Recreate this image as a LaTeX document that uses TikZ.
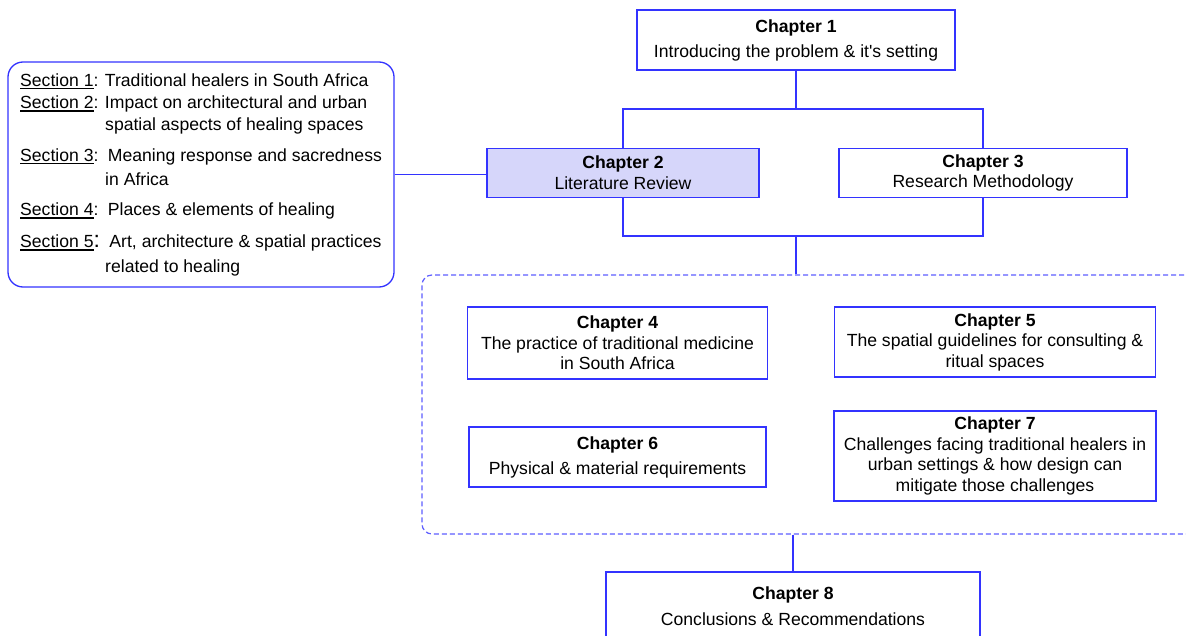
\documentclass[tikz,border=0pt]{standalone}
\usepackage{fontspec}
\setmainfont{Liberation Sans}
\definecolor{lineblue}{RGB}{51,51,255}
\definecolor{dashblue}{RGB}{95,95,255}
\definecolor{lavender}{RGB}{214,214,250}
% underlined section label with a slightly heavier rule
\newcommand\seclabel[1]{\setbox0\hbox{#1}\rlap{\rule[-2.6pt]{\wd0}{1.1pt}}\box0}
\begin{document}
\begin{tikzpicture}[x=1pt,y=-1pt,
  txt/.style={font=\fontsize{17.6}{20.5}\selectfont},
  chapbox/.style={draw=lineblue,line width=1.3pt,fill=white,align=center,inner sep=0pt,txt},
  link/.style={draw=lineblue,line width=1.3pt},
  secline/.style={anchor=base west,inner sep=0pt,txt}]
\clip (0,0) rectangle (1186,636);
\fill[white] (0,0) rectangle (1186,636);

% dashed group of chapters 4-7
\node[draw=dashblue,line width=1.2pt,dash pattern=on 5pt off 3pt,rounded corners=10pt,
      minimum width=780pt,minimum height=259pt,inner sep=0pt] (grp) at (812,404.5) {};

% chapter boxes
\node[chapbox,minimum width=318pt,minimum height=60pt] (ch1) at (796,40)
  {\textbf{Chapter 1}\\[4.5pt]Introducing the problem \& it\textquotesingle s setting};
\node[chapbox,fill=lavender,minimum width=272pt,minimum height=49pt] (ch2) at (623,172.8)
  {\textbf{Chapter 2}\\Literature Review};
\node[chapbox,minimum width=288pt,minimum height=49pt] (ch3) at (983,172.8)
  {\textbf{Chapter 3}\\Research Methodology};
\node[chapbox,minimum width=300pt,minimum height=72pt] (ch4) at (617.5,343)
  {\textbf{Chapter 4}\\The practice of traditional medicine\\in South Africa};
\node[chapbox,minimum width=321pt,minimum height=70pt] (ch5) at (995,342)
  {\textbf{Chapter 5}\\The spatial guidelines for consulting \&\\ritual spaces};
\node[chapbox,minimum width=297pt,minimum height=60pt] (ch6) at (617.5,457)
  {\textbf{Chapter 6}\\[4.5pt]Physical \& material requirements};
\node[chapbox,minimum width=322pt,minimum height=90pt] (ch7) at (995,456)
  {\textbf{Chapter 7}\\Challenges facing traditional healers in\\urban settings \& how design can\\mitigate those challenges};
\node[chapbox,minimum width=374pt,minimum height=68pt] (ch8) at (793,606)
  {\textbf{Chapter 8}\\[5.5pt]Conclusions \& Recommendations};

% section list
\node[draw=lineblue,line width=1.3pt,rounded corners=15pt,minimum width=386pt,
      minimum height=225pt,inner sep=0pt] (sec) at (201,174.5) {};
\node[secline] (s1) at (20,86.7) {\seclabel{Section 1}: Traditional healers in South Africa};
\node[secline] (s2) at (20,109) {\seclabel{Section 2}: Impact on architectural and urban};
\node[secline] (s2b) at (105,131) {spatial aspects of healing spaces};
\node[secline] (s3) at (20,161.5) {\seclabel{Section 3}:\hspace{3pt} Meaning response and sacredness};
\node[secline] (s3b) at (105,186) {in Africa};
\node[secline] (s4) at (20,216) {\seclabel{Section 4}:\hspace{3pt} Places \& elements of healing};
\node[secline] (s5) at (20,248) {\seclabel{Section 5}{\fontsize{23}{23}\selectfont:}\hspace{3pt} Art, architecture \& spatial practices};
\node[secline] (s5b) at (105,273) {related to healing};

% connectors
\coordinate (jt) at (796,109);
\coordinate (jb) at (796,236);
\draw[link] (ch1.south) -- (jt);
\draw[link] (ch2.north) |- (jt) -| (ch3.north);
\draw[link] (ch2.south) |- (jb) -| (ch3.south);
\draw[link] (jb) -- (jb |- grp.north);
\draw[link] (grp.south -| ch8.north) -- (ch8.north);
\draw[link] (sec.east) -- (sec.east -| ch2.west);
\end{tikzpicture}
\end{document}
